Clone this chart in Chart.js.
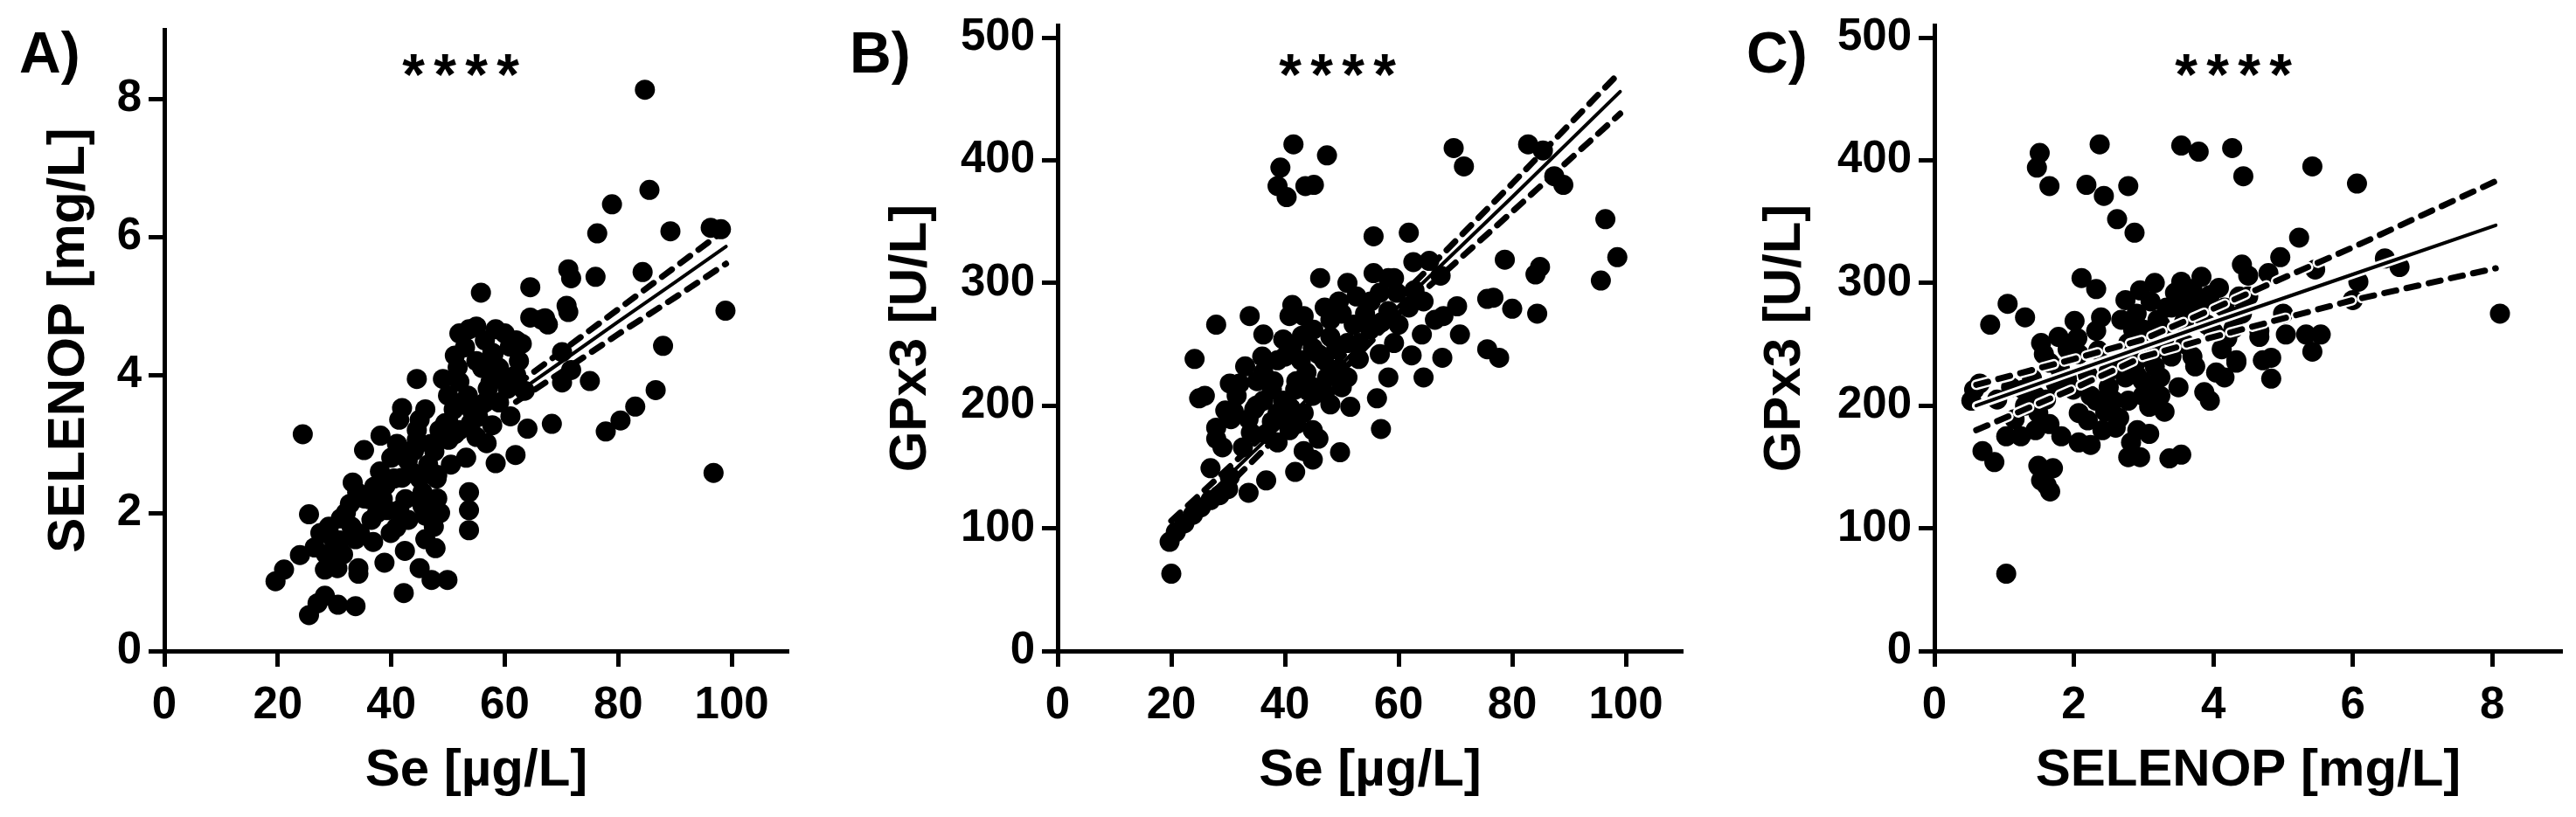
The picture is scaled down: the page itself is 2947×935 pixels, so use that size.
<!DOCTYPE html>
<html>
<head>
<meta charset="utf-8">
<script src="https://cdn.jsdelivr.net/npm/chart.js@4.4.1/dist/chart.umd.min.js"></script>
<style>
  html, body { margin: 0; padding: 0; background: #fff; }
  #wrap { position: relative; width: 2947px; height: 935px; overflow: hidden; }
  #wrap canvas { position: absolute; top: 0; }
</style>
</head>
<body>
<div id="wrap">
  <canvas id="chartA" width="960" height="935" style="left:0px"></canvas>
  <canvas id="chartB" width="1000" height="935" style="left:960px"></canvas>
  <canvas id="chartC" width="987" height="935" style="left:1960px"></canvas>
</div>
<script>
// A) Se vs SELENOP
const seA = [24.4, 19.6, 21.1, 23.9, 25.5, 25.5, 27.0, 28.3, 30.6, 33.7, 28.3, 27.5, 29.6, 31.1, 33.2, 32.7, 34.2, 34.2, 33.7, 35.2,
  37.0, 37.8, 35.2, 38.1, 36.8, 38.8, 39.9, 39.3, 40.9, 42.4, 42.2, 41.4, 41.9, 41.9, 41.4, 44.5, 42.9, 45.0, 45.5, 46.0,
  46.0, 47.8, 45.0, 47.1, 49.9, 44.5, 48.1, 48.6, 48.1, 47.6, 50.1, 49.1, 51.2, 51.7, 51.2, 50.1, 53.2, 53.7, 53.7, 53.7,
  54.2, 55.8, 55.3, 56.8, 58.4, 57.8, 53.7, 58.4, 55.8, 57.8, 60.9, 59.9, 61.9, 64.0, 64.5, 63.5, 62.5,
  84.7, 85.5, 78.9, 76.3, 89.2, 96.3, 98.1, 71.2, 71.7, 76.0, 84.3, 64.5, 70.9, 71.2, 67.6, 67.1, 70.1, 70.1, 71.7, 75.0,
  87.9, 98.9, 86.6, 83.0, 80.4, 77.8, 68.3, 96.8,
  43.5, 45.0, 46.5, 44.0, 36.0, 37.5, 39.0, 38.0, 40.0, 49.5, 51.0, 52.5, 54.0, 55.0, 50.0, 52.0, 59.0, 60.5, 61.0, 62.0,
  57.0, 56.0, 47.0, 48.5, 33.0, 31.0, 30.0, 29.0, 32.0, 34.0, 42.0, 44.5, 46.0, 41.0, 58.0, 56.5, 55.0, 53.0,
  38.5, 40.5, 42.5, 43.0, 36.5, 34.5, 31.5, 30.5, 28.5, 26.5, 48.0, 50.5, 52.0, 53.5, 56.5, 57.5, 59.0, 60.0, 55.0, 52.0,
  62.0, 66.5, 63.0, 45.5, 47.5, 46.5];
const selenopA = [3.14, 1.01, 1.18, 1.39, 1.98, 0.52, 0.69, 0.80, 0.67, 0.65, 1.18, 1.71, 1.64, 1.92, 2.44, 2.13, 1.20, 1.12, 1.62, 2.21,
  2.38, 2.30, 2.91, 3.12, 1.58, 1.28, 1.71, 2.04, 1.79, 1.45, 0.84, 2.04, 2.51, 3.52, 3.35, 3.06, 2.76, 3.35, 2.30, 1.96,
  1.62, 1.49, 1.20, 1.03, 1.03, 3.94, 2.21, 2.00, 2.55, 2.89, 3.31, 3.94, 4.28, 4.11, 3.14, 3.06, 2.80, 2.30, 2.04, 1.75,
  3.48, 3.56, 3.39, 3.01, 2.72, 3.27, 4.66, 4.66, 5.19, 4.32, 4.41, 3.94, 2.84, 3.22, 4.83, 3.77, 4.20,
  8.13, 6.68, 6.47, 6.05, 6.08, 6.13, 6.11, 5.53, 5.40, 5.42, 5.49, 5.27, 5.00, 4.91, 4.73, 4.82, 4.33, 3.89, 4.07, 3.91,
  4.42, 4.93, 3.78, 3.54, 3.34, 3.18, 3.29, 2.58,
  2.60, 2.50, 2.70, 2.90, 2.20, 2.00, 2.40, 2.60, 2.80, 3.30, 3.50, 3.60, 3.30, 3.10, 3.70, 3.90, 3.60, 3.80, 3.40, 4.00,
  3.80, 4.10, 3.00, 3.20, 1.80, 1.60, 1.50, 1.80, 2.00, 2.30, 2.90, 3.20, 3.50, 3.00, 4.30, 4.50, 4.20, 4.40,
  2.20, 2.50, 2.20, 1.90, 1.90, 1.70, 1.40, 1.20, 1.40, 1.50, 2.50, 2.70, 3.20, 3.70, 3.60, 3.90, 4.10, 4.60, 4.70, 4.60,
  4.50, 4.80, 4.45, 2.10, 1.80, 2.20];
// visible part of the fit and its 95% band
const fitXA = [62, 70, 80, 90, 99];
const fitA = [3.73, 4.19, 4.77, 5.34, 5.86];
const upperA = [3.85, 4.34, 4.95, 5.56, 6.11];
const lowerA = [3.61, 4.04, 4.59, 5.12, 5.61];

// B) Se vs GPx3
const seB = [41.5, 47.4, 39.2, 38.7, 40.3, 43.6, 45.1, 69.7, 71.5, 82.8, 85.4, 87.4, 89.0, 96.4, 98.5, 95.6, 78.7, 84.9, 84.1, 84.4,
  80.0, 75.6, 76.7, 70.3, 70.8, 75.6, 77.7, 67.7, 67.9, 64.1, 64.4, 62.3, 58.2, 56.2, 56.9, 55.6, 61.8, 46.2, 62.6, 65.4,
  67.4, 51.0, 55.6, 59.2, 49.5, 48.0, 41.3, 40.8, 43.3, 33.8, 27.9, 24.1, 36.2, 39.7, 41.3, 38.7, 45.9, 52.1, 54.1, 58.2,
  59.7, 61.8, 53.1, 56.7, 59.2, 49.5, 47.4, 51.0, 43.8, 41.8, 44.9, 48.0, 51.5, 24.9, 25.9, 30.3, 31.5, 35.1, 37.7, 39.7,
  30.5, 27.9, 33.6, 37.7, 29.0, 32.6, 36.7, 38.7, 40.8, 44.9, 45.9, 43.3, 44.9, 41.8, 49.7, 26.9, 30.3, 33.6, 36.7, 30.0,
  26.9, 23.8, 20.8, 19.7, 20.0,
  46.9, 49.0, 51.0, 55.1, 56.7, 58.2, 62.8, 64.4, 66.4, 50.0, 52.6, 48.0, 44.9, 42.8, 36.2, 34.6, 40.8, 38.7, 43.3, 36.2,
  32.0, 29.5, 27.9,
  35.0, 38.0, 42.0, 45.0, 47.0, 50.0, 53.0, 55.0, 57.0, 60.0, 45.0, 47.0, 43.0, 40.0, 36.0, 33.0, 31.0, 34.0, 40.0, 42.0,
  22.3, 25.2, 28.5];
const gpx3B = [413, 404, 394, 379, 370, 379, 380, 410, 395, 413, 408, 387, 380, 352, 321, 302, 319, 313, 307, 275,
  279, 287, 288, 281, 258, 246, 239, 239, 273, 258, 223, 241, 223, 206, 181, 338, 341, 304, 317, 318,
  306, 300, 308, 304, 285, 270, 282, 273, 273, 273, 266, 238, 258, 254, 249, 237, 242, 266, 275, 277,
  292, 280, 251, 242, 251, 230, 223, 223, 227, 213, 208, 201, 199, 206, 208, 218, 208, 220, 213, 204,
  189, 182, 189, 187, 166, 166, 177, 170, 180, 180, 173, 163, 156, 146, 162, 149, 142, 129, 139, 132,
  123, 111, 97, 89, 63,
  237, 246, 251, 285, 292, 304, 294, 285, 270, 275, 289, 256, 247, 237, 204, 197, 199, 194, 194, 227,
  218, 196, 173,
  200, 220, 220, 215, 210, 215, 238, 262, 268, 266, 262, 280, 257, 240, 240, 232, 195, 178, 190, 185,
  104, 117, 127];
const fitXB = [20, 40, 60, 80, 99];
const fitB = [98, 187, 281, 370, 456];
const upperB = [106, 192, 287, 381, 472];
const lowerB = [89, 181, 275, 358, 438];

// C) SELENOP vs GPx3
const selenopC = [2.37, 1.51, 1.47, 1.65, 2.18, 2.43, 2.78, 2.62, 2.87, 3.54, 3.79, 4.27, 4.43, 2.11, 2.32, 1.05, 1.30, 0.80, 2.01, 2.39,
  2.68, 2.74, 2.95, 3.16, 3.54, 3.83, 4.08, 4.41, 4.50, 3.33, 3.58, 3.83, 4.16, 4.41, 3.24, 3.58, 3.91, 4.29, 2.32, 1.53,
  1.78, 1.57, 1.91, 2.07, 1.65, 2.78, 2.99, 3.16, 2.91, 3.16, 2.74, 2.99, 3.24, 3.74, 4.12, 4.33, 4.04, 3.87, 3.95, 4.16,
  0.57, 0.53, 0.65, 1.28, 1.45, 1.74, 1.99, 2.24, 2.07, 2.32, 2.57, 2.78, 2.99, 3.08, 3.24, 1.15, 1.49, 1.65, 1.24, 1.03,
  1.45, 1.82, 2.07, 2.24, 2.41, 2.91, 3.08, 2.82, 2.78, 2.95, 3.37, 3.54, 0.69, 0.86, 1.49, 1.70, 1.53, 1.66, 1.61, 1.03,
  5.42, 6.06, 5.23, 4.96, 4.50, 4.79, 5.46, 6.46, 6.67, 6.08, 6.00, 4.37, 4.66, 4.66, 5.00, 5.04, 5.33, 5.54, 5.42, 4.33,
  4.71, 4.83, 4.83, 8.11,
  3.00, 3.30, 2.90, 3.10, 3.45, 3.70, 3.95, 2.60, 2.50, 2.20, 1.80, 2.05, 1.30, 1.60, 3.40, 3.60, 3.10, 2.65, 2.45,
  2.50, 2.70, 2.85, 3.20, 3.40, 3.60, 3.80, 4.00, 4.20, 1.90, 1.40, 1.10, 0.90, 2.20, 2.60, 3.30, 3.50, 3.70, 2.35, 2.90];
const gpx3C = [413, 406, 394, 379, 380, 371, 379, 352, 341, 412, 407, 410, 387, 304, 295, 283, 272, 266, 269, 272,
  270, 286, 294, 300, 301, 305, 296, 315, 289, 280, 285, 285, 280, 275, 266, 268, 266, 263, 261, 251,
  256, 242, 246, 242, 235, 251, 251, 246, 237, 232, 223, 220, 223, 232, 246, 237, 227, 211, 204, 223,
  213, 204, 218, 213, 208, 218, 213, 208, 194, 204, 204, 204, 208, 199, 208, 189, 194, 185, 175, 175,
  180, 175, 170, 168, 180, 180, 177, 170, 158, 158, 157, 160, 163, 154, 151, 149, 139, 130, 135, 63,
  395, 381, 337, 321, 306, 308, 311, 320, 313, 301, 286, 289, 261, 256, 275, 258, 258, 258, 244, 235,
  237, 239, 222, 275,
  262, 255, 275, 285, 292, 295, 290, 240, 228, 225, 230, 255, 200, 205, 240, 250, 215, 190, 195,
  215, 240, 262, 270, 280, 278, 275, 260, 255, 222, 222, 215, 205, 188, 182, 195, 215, 240, 245, 225];
const fitXC = [0.6, 2, 3, 4, 6, 8.05];
const fitC = [200, 228, 248, 268, 307, 347];
const upperC = [217, 238, 254, 279, 329, 383];
const lowerC = [180, 214, 240, 256, 286, 312];

// tick labels
const ticksSe = [0, 20, 40, 60, 80, 100];
const ticksSelenopY = [0, 2, 4, 6, 8];
const ticksGpx = [0, 100, 200, 300, 400, 500];
const ticksSelenopX = [0, 2, 4, 6, 8];

const FONT = '"Liberation Sans", Arial, Helvetica, sans-serif';

function pts(xs, ys) { return xs.map((x, i) => ({ x: x, y: ys[i] })); }

function axis(ticks, min, max, title, isY, box, titlePad) {
  return {
    type: 'linear', min: min, max: max,
    afterBuildTicks: s => { s.ticks = ticks.map(v => ({ value: v })); },
    afterFit: s => {
      if (isY) s.width = box; else s.height = box;
      s.paddingTop = 0; s.paddingBottom = 0; s.paddingLeft = 0; s.paddingRight = 0;
    },
    border: { display: true, color: '#000', width: 5 },
    grid: { display: true, drawOnChartArea: false, drawTicks: true, tickLength: 18, tickWidth: 5, tickColor: '#000' },
    ticks: { color: '#000', font: { family: FONT, size: 51, weight: 'bold' }, padding: isY ? 8 : 14,
             maxRotation: 0, autoSkip: false },
    title: { display: true, text: title, color: '#000', font: { family: FONT, size: 60, weight: 'bold' },
             padding: isY ? { top: titlePad, bottom: 0 } : { top: 0, bottom: titlePad } }
  };
}

function lineSet(xs, ys, color, width, dashed, order) {
  return {
    data: pts(xs, ys), showLine: true, pointRadius: 0, borderColor: color, borderWidth: width,
    borderDash: dashed ? [14, 12] : [], borderCapStyle: 'round', fill: false, order: order
  };
}

const panelText = {
  id: 'panelText',
  afterDraw(chart, args, o) {
    const c = chart.ctx;
    c.save();
    c.fillStyle = '#000';
    c.textAlign = 'left';
    c.textBaseline = 'middle';
    c.font = 'bold 66px ' + FONT;
    c.fillText(o.letter, o.letterX, 65);
    c.textAlign = 'center';
    c.textBaseline = 'alphabetic';
    c.font = 'bold 66px ' + FONT;
    for (let i = 0; i < 4; i++) c.fillText('*', o.starX + (i - 1.5) * 36, 108);
    c.restore();
  }
};

function makePanel(id, cfg) {
  const on = cfg.linesOnTop;
  const datasets = [
    { data: pts(cfg.xs, cfg.ys), pointRadius: 11.5, pointBackgroundColor: '#000', pointBorderWidth: 0, order: on ? 3 : 0 },
    lineSet(cfg.fx, cfg.up, '#fff', 12, true, 2),
    lineSet(cfg.fx, cfg.lo, '#fff', 12, true, 2),
    lineSet(cfg.fx, cfg.fit, '#fff', 10, false, 2),
    lineSet(cfg.fx, cfg.up, '#000', 7, true, 1),
    lineSet(cfg.fx, cfg.lo, '#000', 7, true, 1),
    lineSet(cfg.fx, cfg.fit, '#000', 4, false, 1)
  ];
  new Chart(document.getElementById(id), {
    type: 'scatter',
    data: { datasets: datasets },
    plugins: [panelText],
    options: {
      responsive: false, animation: false, devicePixelRatio: 1, events: [],
      layout: { padding: cfg.padding },
      plugins: { legend: { display: false }, tooltip: { enabled: false },
                 panelText: { letter: cfg.letter, letterX: cfg.letterX, starX: cfg.starX } },
      scales: {
        x: axis(cfg.xTicks, 0, cfg.xMax, cfg.xTitle, false, 190, 17),
        y: axis(cfg.yTicks, 0, cfg.yMax, cfg.yTitle, true, cfg.yBox, cfg.yTitlePad)
      }
    }
  });
}

makePanel('chartA', {
  xs: seA, ys: selenopA, fx: fitXA, fit: fitA, up: upperA, lo: lowerA, linesOnTop: false,
  xTicks: ticksSe, yTicks: ticksSelenopY, xMax: 110, yMax: 9,
  xTitle: 'Se [µg/L]', yTitle: 'SELENOP [mg/L]',
  padding: { left: 0, top: 34, right: 58, bottom: 0 }, yBox: 188, yTitlePad: 43,
  letter: 'A)', letterX: 22, starX: 527
});
makePanel('chartB', {
  xs: seB, ys: gpx3B, fx: fitXB, fit: fitB, up: upperB, lo: lowerB, linesOnTop: false,
  xTicks: ticksSe, yTicks: ticksGpx, xMax: 110, yMax: 510,
  xTitle: 'Se [µg/L]', yTitle: 'GPx3 [U/L]',
  padding: { left: 0, top: 29, right: 35, bottom: 0 }, yBox: 250, yTitlePad: 46,
  letter: 'B)', letterX: 12, starX: 570
});
makePanel('chartC', {
  xs: selenopC, ys: gpx3C, fx: fitXC, fit: fitC, up: upperC, lo: lowerC, linesOnTop: true,
  xTicks: ticksSelenopX, yTicks: ticksGpx, xMax: 9, yMax: 510,
  xTitle: 'SELENOP [mg/L]', yTitle: 'GPx3 [U/L]',
  padding: { left: 0, top: 29, right: 16, bottom: 0 }, yBox: 253, yTitlePad: 46,
  letter: 'C)', letterX: 38, starX: 595
});
</script>
</body>
</html>
